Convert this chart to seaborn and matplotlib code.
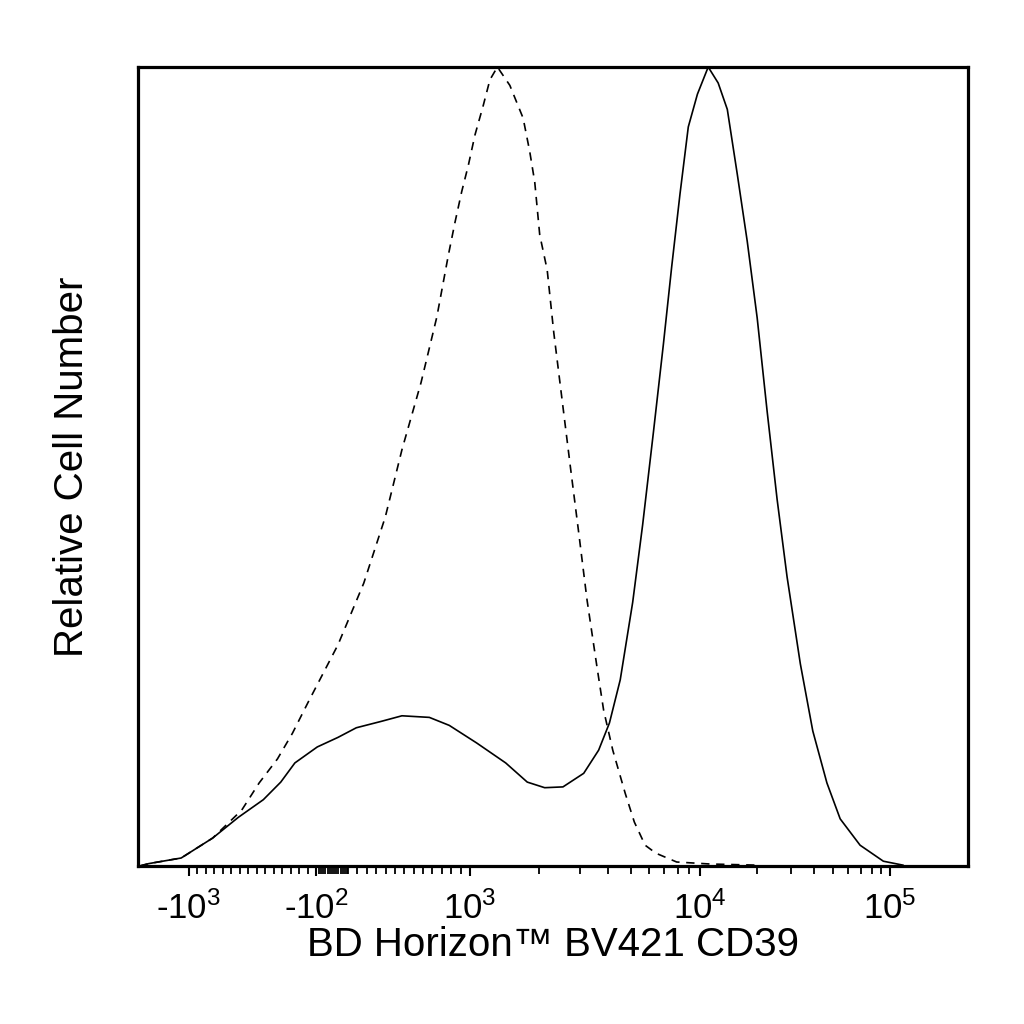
import numpy as np
import pandas as pd
import seaborn as sns
import matplotlib
matplotlib.use("Agg")
import matplotlib.pyplot as plt

# display channel (0-1000 across the plot) vs relative count (peak = 100)
cd39_channel = [2, 13, 52, 90, 121, 151, 172, 189, 216, 241,
                263, 293, 318, 351, 375, 408, 443, 469, 490, 512,
                537, 555, 568, 581, 596, 608, 621, 633, 643, 653,
                663, 674, 687, 699, 710, 722, 734, 746, 758, 770,
                782, 798, 813, 830, 846, 870, 898, 922]
cd39_count = [0, 0.3, 1.0, 3.5, 6.1, 8.3, 10.5, 12.9, 14.9, 16.1,
              17.3, 18.1, 18.8, 18.6, 17.6, 15.4, 12.9, 10.5, 9.8, 9.9,
              11.6, 14.5, 17.9, 23.3, 33.0, 42.7, 54.3, 65.3, 75.0, 84.1,
              92.5, 96.6, 100, 98.0, 94.7, 86.6, 78.2, 68.6, 56.9, 45.9,
              36.2, 25.3, 16.9, 10.4, 5.9, 2.6, 0.6, 0.1]

iso_channel = [2, 13, 52, 90, 125, 146, 168, 186, 205, 224,
               241, 272, 298, 318, 341, 360, 374, 382, 390, 398,
               406, 416, 424, 433, 448, 464, 472, 478, 484, 493,
               501, 511, 521, 531, 541, 553, 561, 572, 587, 598,
               611, 624, 649, 689, 749]
iso_count = [0, 0.3, 1.0, 3.5, 7.0, 10.4, 13.4, 16.6, 20.5, 24.3,
             27.7, 35.4, 43.7, 52.1, 60.5, 68.7, 76.5, 80.6, 84.4, 87.7,
             91.5, 95.2, 98.4, 100, 97.7, 93.6, 89.4, 85.6, 79.0, 74.6,
             66.7, 58.3, 49.9, 41.7, 33.3, 24.9, 19.5, 14.5, 9.1, 5.5,
             2.6, 1.6, 0.5, 0.25, 0.1]

tick_labels = ['-$\\mathregular{10^{3}}$', '-$\\mathregular{10^{2}}$',
               '$\\mathregular{10^{3}}$', '$\\mathregular{10^{4}}$',
               '$\\mathregular{10^{5}}$']

df = pd.concat([
    pd.DataFrame({'channel': cd39_channel, 'count': cd39_count, 'sample': 'CD39'}),
    pd.DataFrame({'channel': iso_channel, 'count': iso_count, 'sample': 'Isotype'}),
])

sns.set_style("white")
plt.rcParams['font.family'] = ['Liberation Sans', 'DejaVu Sans']
plt.rcParams['mathtext.fontset'] = 'custom'
plt.rcParams['mathtext.rm'] = 'Liberation Sans'
plt.rcParams['text.color'] = 'black'
plt.rcParams['axes.labelcolor'] = 'black'
plt.rcParams['xtick.color'] = 'black'

fig = plt.figure(figsize=(10.24, 10.24), dpi=100)
ax = fig.add_axes([138 / 1024, 158 / 1024, 830 / 1024, 799 / 1024])

sns.lineplot(data=df, x='channel', y='count', style='sample',
             dashes={'CD39': '', 'Isotype': (5, 4)},
             color='black', linewidth=1.2, legend=False, ax=ax)

# axis tick positions in display channels
major_pos = [61.4, 215.0, 400.0, 677.1, 906.0]
minor_pos = list(np.linspace(61.4, 215.0, 16)[1:-1])
minor_pos += list(np.arange(218.0, 253.0, 2.6))
minor_pos += list(np.linspace(253.0, 400.0, 14)[:-1])
k = np.arange(2, 10)
minor_pos += list(400.0 + np.log10(k) * (677.1 - 400.0))
minor_pos += list(677.1 + np.log10(k) * (906.0 - 677.1))

ax.set_xlim(0, 1000)
ax.set_ylim(0, 100)
ax.set_xticks(major_pos, tick_labels)
ax.set_xticks(minor_pos, minor=True)
ax.set_yticks([])
ax.tick_params(axis='x', which='both', bottom=True, direction='out')
ax.tick_params(axis='x', which='major', length=7, width=1.5,
               labelsize=25, pad=11, labelcolor='black')
ax.tick_params(axis='x', which='minor', length=6, width=1.3)

for s in ax.spines.values():
    s.set_visible(True)
    s.set_linewidth(2.3)
    s.set_color('black')

ax.set_xlabel('BD Horizon™ BV421 CD39', fontsize=29, labelpad=0)
ax.set_ylabel('Relative Cell Number', fontsize=29, labelpad=34)

fig.savefig('out.png', dpi=100, facecolor='white')
